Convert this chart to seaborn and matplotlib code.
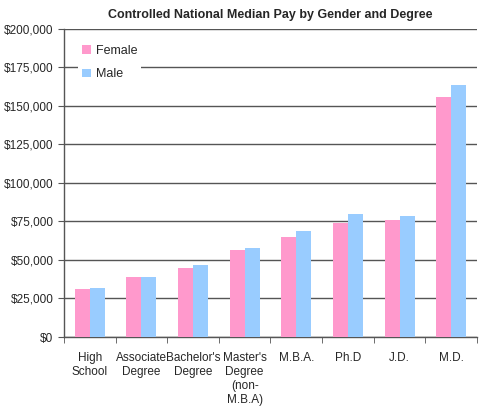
import matplotlib
matplotlib.use("Agg")
import matplotlib.pyplot as plt
import matplotlib.ticker as mticker
import seaborn as sns
import pandas as pd
import numpy as np

degrees = ["High\nSchool", "Associate\nDegree", "Bachelor's\nDegree",
           "Master's\nDegree\n(non-\nM.B.A)", "M.B.A.", "Ph.D", "J.D.", "M.D."]
female_pay = [31000, 39000, 45000, 56500, 65000, 74000, 76000, 155500]
male_pay = [32000, 39000, 46500, 58000, 68500, 80000, 78500, 163500]

df = pd.DataFrame({
    "Degree": degrees * 2,
    "Gender": ["Female"] * len(degrees) + ["Male"] * len(degrees),
    "Pay": female_pay + male_pay,
})

sns.set_style("white")
plt.rcParams["font.family"] = ["Liberation Sans", "DejaVu Sans"]

fig = plt.figure(figsize=(4.8, 4.12), dpi=100)
ax = fig.add_axes([0.133, 0.182, 0.861, 0.748])

sns.barplot(data=df, x="Degree", y="Pay", hue="Gender",
            palette={"Female": "#FF99CC", "Male": "#99CCFF"},
            width=0.58, gap=0, saturation=1, errorbar=None, linewidth=0,
            ax=ax, zorder=3)

ax.set_ylim(0, 200000)
ax.set_xlim(-0.5, len(degrees) - 0.5)
ax.yaxis.set_major_locator(mticker.MultipleLocator(25000))
ax.yaxis.set_major_formatter(mticker.FuncFormatter(lambda v, p: f"${v:,.0f}"))
ax.grid(axis="y", color="#555555", linewidth=1, zorder=0)
ax.set_axisbelow(True)

for s in ["top", "right"]:
    ax.spines[s].set_visible(False)
for s in ["left", "bottom"]:
    ax.spines[s].set_color("#555555")
    ax.spines[s].set_linewidth(1)

# category ticks sit between groups, labels centred without tick marks
ax.set_xticks(np.arange(len(degrees)))
ax.set_xticklabels(degrees, fontsize=8.5)
ax.set_xticks(np.arange(-0.5, len(degrees)), minor=True)
ax.tick_params(axis="x", which="major", length=0, pad=11)
ax.tick_params(axis="x", which="minor", length=4, color="#555555", direction="out", bottom=True)
ax.tick_params(axis="y", length=4, color="#555555", direction="out", left=True, labelsize=8.5)

ax.set_xlabel("")
ax.set_ylabel("")
ax.set_title("Controlled National Median Pay by Gender and Degree",
             fontsize=9, fontweight="bold", pad=8)

leg = ax.legend(loc="upper left", bbox_to_anchor=(0.02, 0.98), fontsize=9,
                frameon=True, facecolor="white", edgecolor="none", framealpha=1,
                handlelength=0.7, handleheight=0.7, handletextpad=0.4,
                labelspacing=0.9, borderpad=0.3, fancybox=False)
leg.set_zorder(5)

fig.savefig("out.png", dpi=100)
